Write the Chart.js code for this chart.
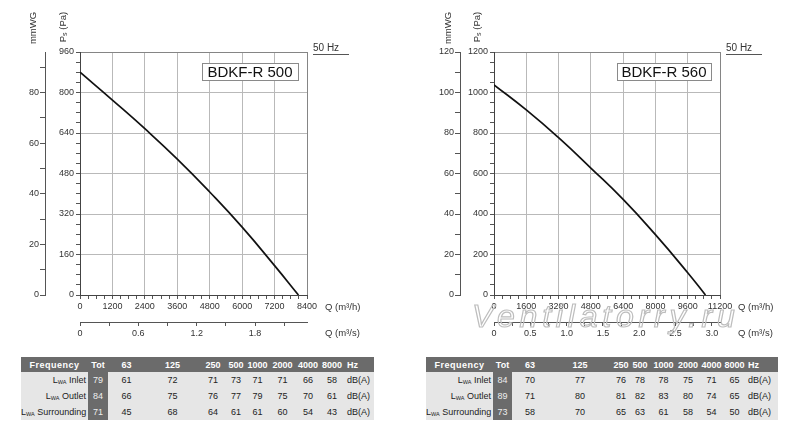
<!DOCTYPE html>
<html>
<head>
<meta charset="utf-8">
<script src="https://cdn.jsdelivr.net/npm/chart.js"></script>
<style>
body { margin:0; background:#fff; width:800px; height:441px; overflow:hidden; position:relative; font-family:"Liberation Sans", Arial, sans-serif; }
.box { position:absolute; top:0; width:400px; height:345px; }
.wm { position:absolute; left:472px; top:300px; font-size:32px; line-height:32px; font-style:italic; letter-spacing:4.8px; color:transparent; -webkit-text-stroke:1.2px #bdbdbd; white-space:nowrap; pointer-events:none; }
table.snd { position:absolute; top:357px; border-collapse:collapse; table-layout:fixed; font-size:9px; color:#222; }
table.snd td { padding:0; white-space:nowrap; overflow:hidden; text-align:center; }
table.snd tr.hd td { background:#6b6b6b; color:#fff; font-weight:bold; height:15px; }
table.snd tr.rw td { background:#e6e6e6; height:16px; }
table.snd tr.rw td.tot { background:#6b6b6b; color:#eee; }
table.snd td.lab { text-align:right; padding-right:2px; }
table.snd td.unit { text-align:left; padding-left:3px; }
table.snd sub { font-size:5.5px; vertical-align:-1px; }
</style>
</head>
<body>
<div class="box" style="left:0"><canvas id="fan500"></canvas></div>
<div class="box" style="left:400px"><canvas id="fan560"></canvas></div>
<table class="snd" id="tab500" style="left:21px;width:353px"></table>
<table class="snd" id="tab560" style="left:426px;width:352px"></table>
<div class="wm">Ventilatorry.ru</div>
<script>
// BDKF-R 500 curve
const flow500 = [0, 1200, 2400, 3600, 4800, 6000, 7200, 8083];
const press500 = [880, 770, 657, 537, 407, 268, 116, 0];
const qTicks500 = ['0', '1200', '2400', '3600', '4800', '6000', '7200', '8400'];
const qsTicks500 = ['0', '0.6', '1.2', '1.8'];
const paTicks500 = ['0', '160', '320', '480', '640', '800', '960'];
const mmTicks500 = ['0', '20', '40', '60', '80'];

// BDKF-R 560 curve
const flow560 = [0, 1600, 3200, 4800, 6400, 8000, 9600, 10480];
const press560 = [1038, 914, 777, 627, 472, 298, 110, 0];
const qTicks560 = ['0', '1600', '3200', '4800', '6400', '8000', '9600', '11200'];
const qsTicks560 = ['0', '0.5', '1.0', '1.5', '2.0', '2.5', '3.0'];
const paTicks560 = ['0', '200', '400', '600', '800', '1000', '1200'];
const mmTicks560 = ['0', '20', '40', '60', '80', '100', '120'];

// sound tables
const bands = ['63', '125', '250', '500', '1000', '2000', '4000', '8000'];
const rowNames = ['Inlet', 'Outlet', 'Surrounding'];
const tot500 = [79, 84, 71];
const inlet500 = [61, 72, 71, 73, 71, 71, 66, 58];
const outlet500 = [66, 75, 76, 77, 79, 75, 70, 61];
const surr500 = [45, 68, 64, 61, 61, 60, 54, 43];
const tot560 = [84, 89, 73];
const inlet560 = [70, 77, 76, 78, 78, 75, 71, 65];
const outlet560 = [71, 80, 81, 82, 83, 80, 74, 65];
const surr560 = [58, 70, 65, 63, 61, 58, 54, 50];

Chart.defaults.font.family = '"Liberation Sans", Arial, sans-serif';

const near = (list, v) => list.find(t => Math.abs(parseFloat(t) - v) < 1e-6);
const labelOf = list => v => { const s = near(list, v); return s === undefined ? '' : s; };
const steps = (max, step) => axis => {
    const t = [];
    for (let i = 0; i * step <= max + 1e-9; i++) t.push({ value: Math.round(i * step * 1e6) / 1e6 });
    axis.ticks = t;
};
const gridColor = (list, max) => c => {
    const v = c.tick.value;
    if (near(list, v) === undefined) return 'rgba(0,0,0,0)';
    return Math.abs(v - max) < 1e-6 ? '#858585' : '#b9b9b9';
};
const tickFont = { size: 9 };

// extra texts: model box, 50 Hz, axis names
const deco = {
    id: 'deco',
    afterDraw(chart, args, o) {
        const { ctx, chartArea: a, scales } = chart;
        ctx.save();
        const bx = a.right - 9 - o.boxW, by = a.top + 11;
        ctx.fillStyle = '#fff';
        ctx.fillRect(bx, by, o.boxW, 17);
        ctx.strokeStyle = '#8a8a8a';
        ctx.lineWidth = 1;
        ctx.strokeRect(bx + 0.5, by + 0.5, o.boxW, 17);
        ctx.fillStyle = '#111';
        ctx.font = '15px "Liberation Sans"';
        ctx.textAlign = 'center';
        ctx.textBaseline = 'middle';
        ctx.fillText(o.model, bx + o.boxW / 2, by + 9.5);

        ctx.font = '10px "Liberation Sans"';
        ctx.fillStyle = '#333';
        ctx.textAlign = 'left';
        ctx.fillText('50 Hz', a.right + 6, a.top - 4);
        ctx.strokeStyle = '#555';
        ctx.beginPath();
        ctx.moveTo(a.right + 6, a.top + 2.5);
        ctx.lineTo(a.right + 42, a.top + 2.5);
        ctx.stroke();

        ctx.font = '9.5px "Liberation Sans"';
        ctx.fillText('Q (m³/h)', a.right + 18, a.bottom + 12);
        ctx.fillText('Q (m³/s)', a.right + 18, scales.x2.top + 11);

        // rotated axis names
        ctx.save();
        ctx.translate(scales.yMm.right - 12, 28);
        ctx.rotate(-Math.PI / 2);
        ctx.textAlign = 'center';
        ctx.fillText('mmWG', 0, 0);
        ctx.restore();

        ctx.save();
        ctx.translate(a.left - 17, 27);
        ctx.rotate(-Math.PI / 2);
        ctx.textAlign = 'left';
        const w1 = ctx.measureText('P').width;
        ctx.font = '7px "Liberation Sans"';
        const w2 = ctx.measureText('s').width;
        ctx.font = '9.5px "Liberation Sans"';
        const w3 = ctx.measureText(' (Pa)').width;
        const x = -(w1 + w2 + w3) / 2;
        ctx.fillText('P', x, 0);
        ctx.font = '7px "Liberation Sans"';
        ctx.fillText('s', x + w1, 2);
        ctx.font = '9.5px "Liberation Sans"';
        ctx.fillText(' (Pa)', x + w1 + w2, 0);
        ctx.restore();
        ctx.restore();
    }
};

function fanChart(id, d) {
    return new Chart(document.getElementById(id), {
        type: 'line',
        data: {
            datasets: [{
                data: d.flow.map((q, i) => ({ x: q, y: d.press[i] })),
                borderColor: '#111',
                borderWidth: 1.7,
                pointRadius: 0,
                tension: 0.5,
                xAxisID: 'x',
                yAxisID: 'y'
            }]
        },
        options: {
            responsive: true,
            maintainAspectRatio: false,
            animation: false,
            layout: { padding: { left: 5, top: 52, right: d.padR, bottom: 5 } },
            plugins: {
                legend: { display: false },
                tooltip: { enabled: false },
                deco: { model: d.model, boxW: d.boxW }
            },
            scales: {
                x: {
                    type: 'linear', position: 'bottom', weight: 0, min: 0, max: d.qMax,
                    afterBuildTicks: steps(d.qMax, d.qMax / 28),
                    afterFit: s => { s.height = 27; },
                    border: { color: '#444' },
                    grid: { color: gridColor(d.qTicks, d.qMax), tickColor: '#555', tickLength: 4 },
                    ticks: { autoSkip: false, maxRotation: 0, padding: 2, color: '#333', font: tickFont, callback: labelOf(d.qTicks) }
                },
                x2: {
                    type: 'linear', position: 'bottom', weight: 1, min: 0, max: d.qMax / 3600,
                    afterBuildTicks: steps(d.qMax / 3600, d.qsStep),
                    afterFit: s => { s.height = 18; },
                    border: { color: '#555' },
                    grid: { drawOnChartArea: false, tickColor: '#555', tickLength: 4 },
                    ticks: { autoSkip: false, maxRotation: 0, padding: 2, color: '#333', font: tickFont, callback: labelOf(d.qsTicks) }
                },
                y: {
                    type: 'linear', position: 'left', weight: 0, min: 0, max: d.paMax,
                    afterBuildTicks: steps(d.paMax, d.paMax / 24),
                    afterFit: s => { s.width = d.paW; },
                    border: { color: '#444' },
                    grid: { color: gridColor(d.paTicks, d.paMax), tickColor: '#555', tickLength: 4 },
                    ticks: { autoSkip: false, padding: 2, color: '#333', font: tickFont, callback: labelOf(d.paTicks) }
                },
                yMm: {
                    type: 'linear', position: 'left', weight: 1, min: 0, max: d.paMax / 10,
                    afterBuildTicks: steps(d.paMax / 10, 10),
                    afterFit: s => { s.width = d.mmW; },
                    border: { color: '#555' },
                    grid: { drawOnChartArea: false, tickColor: '#555', tickLength: 5 },
                    ticks: { autoSkip: false, padding: 1, color: '#333', font: tickFont, callback: labelOf(d.mmTicks) }
                }
            }
        },
        plugins: [deco]
    });
}

fanChart('fan500', {
    model: 'BDKF-R 500', boxW: 96, padR: 93, paW: 35, mmW: 40,
    flow: flow500, press: press500, qMax: 8400, paMax: 960, qsStep: 0.3,
    qTicks: qTicks500, qsTicks: qsTicks500, paTicks: paTicks500, mmTicks: mmTicks500
});
fanChart('fan560', {
    model: 'BDKF-R 560', boxW: 94, padR: 80, paW: 34, mmW: 55,
    flow: flow560, press: press560, qMax: 11200, paMax: 1200, qsStep: 0.25,
    qTicks: qTicks560, qsTicks: qsTicks560, paTicks: paTicks560, mmTicks: mmTicks560
});

// sound power tables
function soundTable(id, widths, tot, rows) {
    let h = '<colgroup>' + widths.map(w => '<col style="width:' + w + 'px">').join('') + '</colgroup>';
    h += '<tr class="hd"><td style="letter-spacing:0.5px">Frequency</td><td>Tot</td>' +
        bands.map(b => '<td>' + b + '</td>').join('') + '<td class="unit">Hz</td></tr>';
    rows.forEach((r, i) => {
        h += '<tr class="rw"><td class="lab">L<sub>WA</sub> ' + rowNames[i] + '</td><td class="tot">' + tot[i] + '</td>' +
            r.map(v => '<td>' + v + '</td>').join('') + '<td class="unit">dB(A)</td></tr>';
    });
    document.getElementById(id).innerHTML = h;
}
soundTable('tab500', [67, 20, 37, 55, 26, 20, 23, 27, 24, 24, 30], tot500, [inlet500, outlet500, surr500]);
soundTable('tab560', [67, 19, 36, 64, 18, 20, 27, 22, 25, 21, 33], tot560, [inlet560, outlet560, surr560]);
</script>
</body>
</html>
